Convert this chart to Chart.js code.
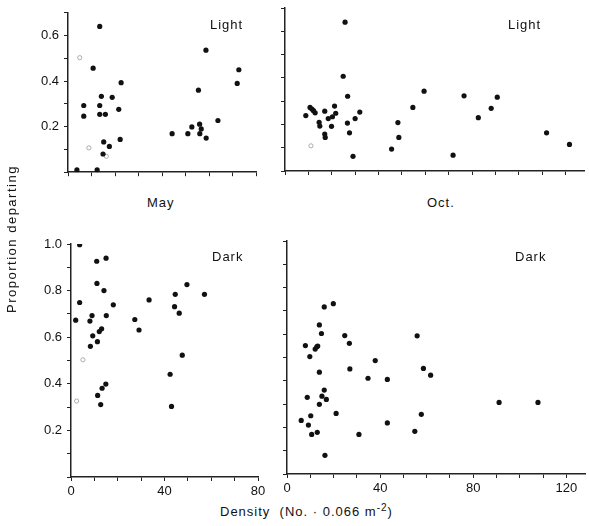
<!DOCTYPE html>
<html>
<head>
<meta charset="utf-8">
<script src="https://cdn.jsdelivr.net/npm/chart.js"></script>
<style>
  body { margin: 0; background: #fff; }
  #fig { position: relative; width: 589px; height: 526px; overflow: hidden; font-family: "Liberation Sans", Arial, sans-serif; color: #111; }
  #fig canvas { position: absolute; }
  .lbl { position: absolute; font-size: 13px; letter-spacing: 1px; white-space: nowrap; line-height: 16px; }
</style>
</head>
<body>
<div id="fig">
  <canvas id="mayLight" width="270" height="185" style="left:0;top:0"></canvas>
  <canvas id="octLight" width="314" height="185" style="left:275px;top:0"></canvas>
  <canvas id="mayDark" width="272" height="270" style="left:0;top:230px"></canvas>
  <canvas id="octDark" width="312" height="270" style="left:277px;top:230px"></canvas>

  <div class="lbl" style="left:210px;top:17px">Light</div>
  <div class="lbl" style="left:508px;top:17px">Light</div>
  <div class="lbl" style="left:147px;top:195px">May</div>
  <div class="lbl" style="left:427px;top:195px">Oct.</div>
  <div class="lbl" style="left:212px;top:249px">Dark</div>
  <div class="lbl" style="left:515px;top:249px">Dark</div>
  <div class="lbl" style="left:-68px;top:231px;width:160px;text-align:center;transform:rotate(-90deg);letter-spacing:1.5px">Proportion departing</div>
  <div class="lbl" style="left:220px;top:504px">Density&nbsp; (No. · 0.066 m<sup style="font-size:10px;line-height:0">-2</sup>)</div>
</div>
<script>
// May, light
const mayLightX = [3.8, 13.5, 10.7, 6.7, 6.7, 13.5, 14.2, 13.5, 15.9, 18.8, 21.6, 22.6, 22.2, 15.2, 17.6, 14.9, 12.4,
  44.3, 51.0, 52.7, 55.5, 56.0, 56.7, 56.1, 58.8, 58.7, 63.8, 72.0, 72.7];
const mayLightY = [0.01, 0.64, 0.457, 0.293, 0.246, 0.293, 0.333, 0.254, 0.254, 0.329, 0.276, 0.393, 0.144, 0.133, 0.113, 0.08, 0.01,
  0.169, 0.169, 0.199, 0.36, 0.211, 0.19, 0.169, 0.15, 0.536, 0.227, 0.39, 0.45];
const mayLightOpenX = [5.0, 8.9, 16.3];
const mayLightOpenY = [0.503, 0.107, 0.07];

// October, light
const octLightX = [8.9, 10.7, 11.5, 12.2, 12.9, 17.0, 14.6, 14.9, 17.0, 17.2, 18.5, 19.9, 20.3, 21.2, 21.7,
  25.7, 24.9, 26.8, 26.7, 27.6, 30.0, 32.0, 29.1, 45.6, 48.3, 48.7, 54.7, 59.5, 71.9, 76.6, 82.7, 88.2, 90.8, 111.9, 121.7];
const octLightY = [0.238, 0.273, 0.266, 0.259, 0.25, 0.257, 0.209, 0.193, 0.159, 0.144, 0.225, 0.192, 0.233, 0.279, 0.248,
  0.639, 0.407, 0.321, 0.206, 0.164, 0.225, 0.253, 0.063, 0.094, 0.208, 0.144, 0.273, 0.343, 0.068, 0.323, 0.229, 0.269, 0.317, 0.164, 0.114];
const octLightOpenX = [11.1];
const octLightOpenY = [0.108];

// May, dark
const mayDarkX = [3.7, 11.0, 15.0, 11.1, 14.1, 3.7, 2.0, 8.1, 9.0, 9.3, 8.3, 11.3, 12.1, 13.1, 15.1, 18.1,
  11.4, 13.3, 14.9, 12.7, 27.3, 29.1, 33.4, 44.6, 44.3, 46.3, 49.6, 57.1, 47.6, 42.4, 43.0];
const mayDarkY = [0.997, 0.926, 0.939, 0.831, 0.8, 0.749, 0.673, 0.669, 0.693, 0.606, 0.561, 0.581, 0.624, 0.636, 0.693, 0.739,
  0.35, 0.381, 0.399, 0.311, 0.676, 0.631, 0.76, 0.784, 0.731, 0.703, 0.826, 0.784, 0.523, 0.441, 0.303];
const mayDarkOpenX = [5.1, 2.4];
const mayDarkOpenY = [0.503, 0.326];

// October, dark
const octDarkX = [6.1, 7.9, 8.7, 9.2, 9.8, 10.2, 10.6, 12.1, 12.8, 13.2, 13.0, 13.9, 13.9, 13.9, 14.8, 15.0, 16.0, 16.0, 16.3, 16.9,
  19.9, 21.1, 24.8, 26.8, 27.0, 30.9, 34.8, 37.9, 43.1, 43.1, 54.9, 55.9, 57.7, 58.6, 61.7, 91.1, 107.8];
const octDarkY = [0.23, 0.551, 0.329, 0.21, 0.504, 0.25, 0.17, 0.536, 0.546, 0.549, 0.179, 0.64, 0.437, 0.299, 0.603, 0.334, 0.717, 0.36, 0.08, 0.32,
  0.731, 0.26, 0.594, 0.561, 0.451, 0.17, 0.411, 0.487, 0.406, 0.219, 0.183, 0.593, 0.256, 0.453, 0.424, 0.307, 0.307];

const xLabels = [0, 40, 80, 120];

function toPoints(xs, ys) {
  return xs.map((x, i) => ({ x: x, y: ys[i] }));
}

function Panel(canvasId, filled, open, xMax, yMax, yWidth, xHeight, showX, showY, pad) {
  const datasets = [
    { data: filled, pointRadius: 2.6, backgroundColor: "#111", borderWidth: 0 },
  ];
  if (open.length) {
    datasets.push({ data: open, pointRadius: 2.1, backgroundColor: "#fff", borderColor: "#999", borderWidth: 0.8 });
  }
  const tickFont = { family: "Liberation Sans", size: 13 };
  return new Chart(document.getElementById(canvasId).getContext("2d"), {
    type: "scatter",
    data: { datasets: datasets },
    options: {
      responsive: false,
      animation: false,
      layout: { padding: pad },
      plugins: { legend: { display: false }, tooltip: { enabled: false } },
      scales: {
        x: {
          type: "linear",
          min: 0,
          max: xMax,
          afterFit: (s) => { s.height = xHeight; },
          ticks: {
            stepSize: 10,
            includeBounds: false,
            display: showX,
            autoSkip: false,
            maxRotation: 0,
            padding: 3,
            color: "#111",
            font: tickFont,
            callback: (v) => xLabels.includes(v) ? String(v) : "",
          },
          grid: { drawOnChartArea: false, tickLength: 4, lineWidth: 1, color: "#222" },
          border: { color: "#222", width: 1.5 },
        },
        y: {
          type: "linear",
          min: 0,
          max: yMax,
          afterFit: (s) => { s.width = yWidth; },
          ticks: {
            stepSize: 0.1,
            display: showY,
            autoSkip: false,
            padding: 5,
            color: "#111",
            font: tickFont,
            callback: (v) => {
              const k = Math.round(v * 10);
              return k > 0 && k % 2 === 0 ? (k / 10).toFixed(1) : "";
            },
          },
          grid: { drawOnChartArea: false, tickLength: 4, lineWidth: 1, color: "#222" },
          border: { color: "#222", width: 1.5 },
        },
      },
    },
  });
}

Panel("mayLight", toPoints(mayLightX, mayLightY), toPoints(mayLightOpenX, mayLightOpenY), 80, 0.7, 68, 12, false, true, { top: 9, right: 14 });
Panel("octLight", toPoints(octLightX, octLightY), toPoints(octLightOpenX, octLightOpenY), 128, 0.7, 10, 14, false, false, { top: 8, right: 3 });
Panel("mayDark", toPoints(mayDarkX, mayDarkY), toPoints(mayDarkOpenX, mayDarkOpenY), 80, 1.0, 71, 23, true, true, { top: 14, right: 14 });
Panel("octDark", toPoints(octDarkX, octDarkY), [], 128, 1.0, 10, 26, true, false, { top: 11, right: 3 });
</script>
</body>
</html>
